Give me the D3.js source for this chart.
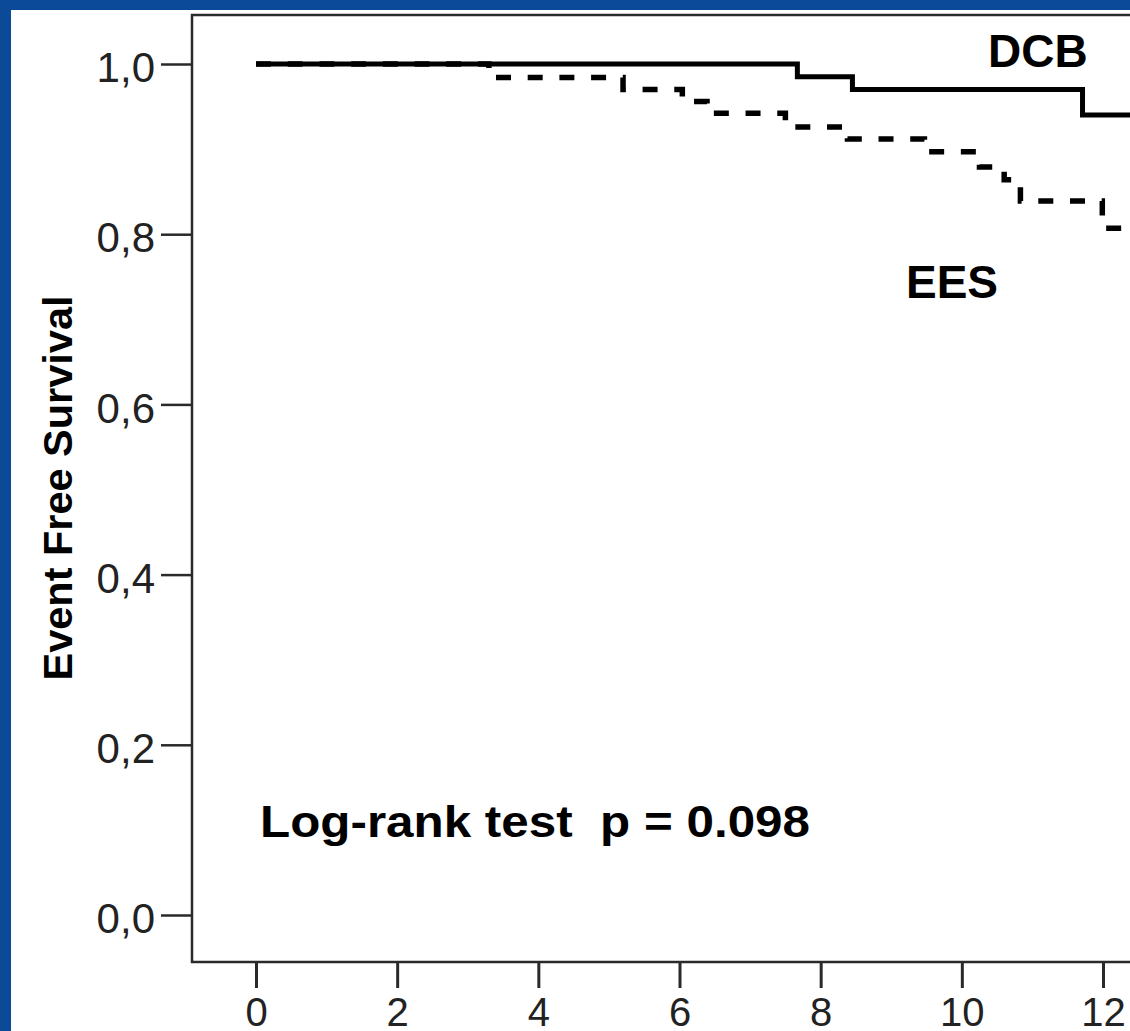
<!DOCTYPE html>
<html>
<head>
<meta charset="utf-8">
<script src="https://cdn.jsdelivr.net/npm/d3@7"></script>
<style>
  html, body { margin: 0; padding: 0; background: #0b4a98; }
  svg { display: block; }
</style>
</head>
<body>
<svg id="chart" width="1130" height="1031"></svg>
<script>
// kaplan-meier steps
var xTicks = [0, 2, 4, 6, 8, 10, 12, 14];
var yTicks = [0, 0.2, 0.4, 0.6, 0.8, 1.0];

var dcbTime = [0, 7.67, 8.45, 11.71, 14];
var dcbSurv = [1.0, 0.985, 0.970, 0.940, 0.940];

var eesTime = [0, 3.3, 5.20, 6.04, 6.39, 7.50, 8.38, 9.47, 10.25, 10.60, 10.83, 11.99, 14];
var eesSurv = [1.0, 0.984, 0.970, 0.956, 0.942, 0.926, 0.912, 0.897, 0.879, 0.864, 0.839, 0.807, 0.807];

var pValueText = "Log-rank test  p = 0.098";

var svg = d3.select("#chart");

// blue slide background + white panel
svg.append("rect").attr("x", 0).attr("y", 0).attr("width", 1130).attr("height", 1031)
    .attr("fill", "#0b4a98");
svg.append("rect").attr("x", 11).attr("y", 10).attr("width", 1130).attr("height", 1040)
    .attr("fill", "#ffffff");

var x = d3.scaleLinear().domain([0, 12]).range([256, 1103]);
var y = d3.scaleLinear().domain([0, 1]).range([915, 64]);

var frameLeft = 192, frameTop = 15, frameBottom = 962;

// plot frame (right side runs off the picture)
svg.append("path")
    .attr("d", "M1200," + frameTop + "H" + frameLeft + "V" + frameBottom + "H1200")
    .attr("fill", "none")
    .attr("stroke", "#2a2a2a")
    .attr("stroke-width", 2.5);

var fmtY = function(d) { return d3.format(".1f")(d).replace(".", ","); };

var yAxis = d3.axisLeft(y).tickValues(yTicks).tickSize(31).tickPadding(6).tickFormat(fmtY);
var gy = svg.append("g").attr("transform", "translate(" + frameLeft + ",0)").call(yAxis);
gy.select(".domain").remove();
gy.selectAll(".tick line").attr("stroke", "#2a2a2a").attr("stroke-width", 2.5);
gy.selectAll(".tick text")
    .attr("font-family", "Liberation Sans, Arial, sans-serif")
    .attr("font-size", 42)
    .attr("fill", "#222")
    .attr("dy", "0.42em");

var xAxis = d3.axisBottom(x).tickValues(xTicks).tickSize(26).tickPadding(9).tickFormat(d3.format("d"));
var gx = svg.append("g").attr("transform", "translate(0," + frameBottom + ")").call(xAxis);
gx.select(".domain").remove();
gx.selectAll(".tick line").attr("stroke", "#2a2a2a").attr("stroke-width", 3);
gx.selectAll(".tick text")
    .attr("font-family", "Liberation Sans, Arial, sans-serif")
    .attr("font-size", 40)
    .attr("fill", "#222")
    .attr("dy", "0.72em");

var line = d3.line()
    .x(function(d) { return x(d[0]); })
    .y(function(d) { return y(d[1]); })
    .curve(d3.curveStepAfter);

var ees = d3.zip(eesTime, eesSurv);
var dcb = d3.zip(dcbTime, dcbSurv);

svg.append("path")
    .datum(ees)
    .attr("d", line)
    .attr("fill", "none")
    .attr("stroke", "#000")
    .attr("stroke-width", 5.5)
    .attr("stroke-dasharray", "15,16.7");

svg.append("path")
    .datum(dcb)
    .attr("d", line)
    .attr("fill", "none")
    .attr("stroke", "#000")
    .attr("stroke-width", 5);

var boldFont = "Liberation Sans, Arial, sans-serif";

svg.append("text")
    .attr("x", 988).attr("y", 67)
    .attr("font-family", boldFont).attr("font-weight", "bold").attr("font-size", 46)
    .text("DCB");

svg.append("text")
    .attr("x", 906).attr("y", 298)
    .attr("font-family", boldFont).attr("font-weight", "bold").attr("font-size", 46)
    .text("EES");

svg.append("text")
    .attr("x", 260).attr("y", 837)
    .attr("font-family", boldFont).attr("font-weight", "bold").attr("font-size", 45)
    .attr("textLength", 550).attr("lengthAdjust", "spacingAndGlyphs")
    .style("white-space", "pre")
    .text(pValueText);

svg.append("text")
    .attr("transform", "translate(72,488) rotate(-90)")
    .attr("text-anchor", "middle")
    .attr("font-family", boldFont).attr("font-weight", "bold").attr("font-size", 40)
    .attr("textLength", 385).attr("lengthAdjust", "spacingAndGlyphs")
    .text("Event Free Survival");
</script>
</body>
</html>
